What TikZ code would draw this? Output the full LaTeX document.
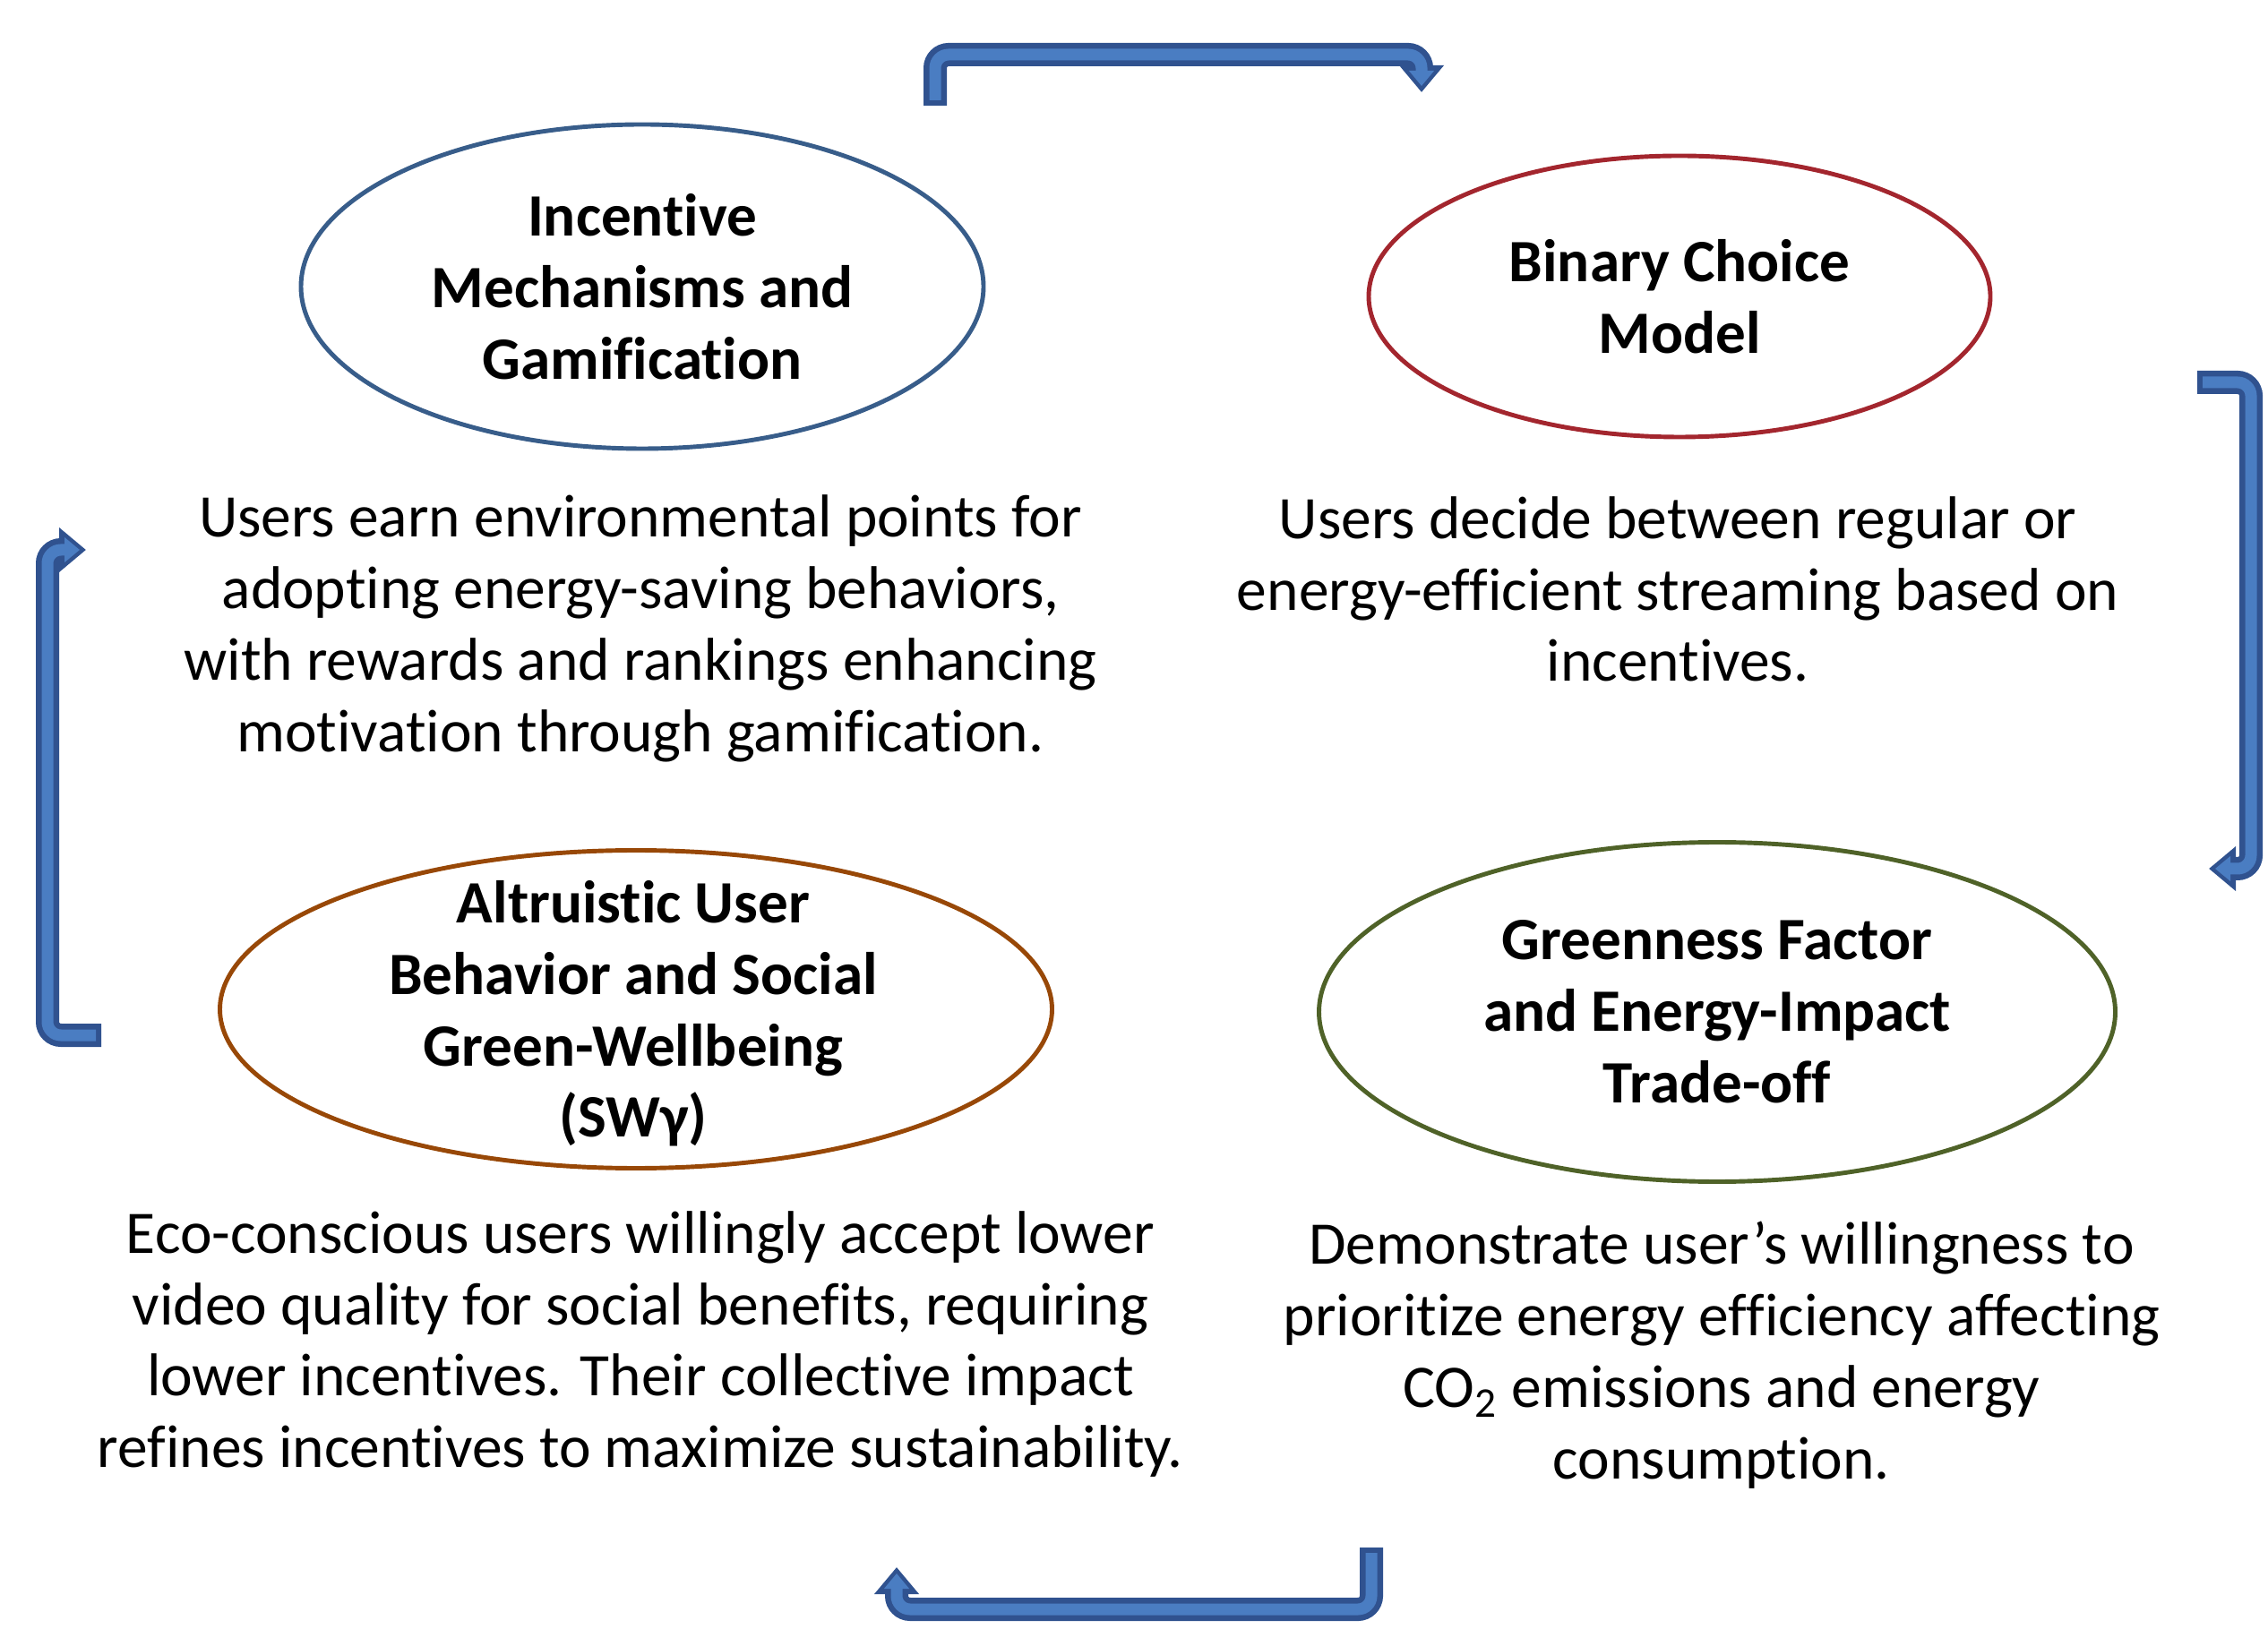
\documentclass[tikz,border=0pt]{standalone}
\usepackage{fontspec}
\setmainfont{Carlito}[Ligatures=NoCommon]
\usetikzlibrary{arrows.meta,shapes.geometric}
\definecolor{ringA}{HTML}{385D8A}
\definecolor{ringB}{HTML}{A3262E}
\definecolor{ringC}{HTML}{984807}
\definecolor{ringD}{HTML}{4F6228}
\definecolor{loopline}{HTML}{30528F}
\definecolor{loopfill}{HTML}{4A7DC2}

\begin{document}
\begin{tikzpicture}[font=\fontsize{19.2}{22.7}\selectfont,
 ring/.style={ellipse,draw,line width=1.4pt,inner sep=0pt},
 title/.style={align=center,font=\fontsize{19.1}{22.7}\selectfont\bfseries},
 note/.style={align=center},
 loopedge/.style={line width=0.26cm,draw=loopline,rounded corners=0.15cm,
  -{Triangle[length=0.3cm,width=0.48cm]}},
 loopcore/.style={line width=0.13cm,draw=loopfill,rounded corners=0.15cm,
  shorten <=0.06cm,shorten >=0.07cm,-{Triangle[length=0.17cm,width=0.27cm]}}]
\useasboundingbox (0,0) rectangle (25.32,18.18);

% the four model parts
\node[ring,draw=ringA,minimum width=7.62cm,minimum height=3.62cm] (incentive) at (7.17,14.98) {};
\node[ring,draw=ringB,minimum width=6.94cm,minimum height=3.14cm] (choice) at (18.75,14.87) {};
\node[ring,draw=ringC,minimum width=9.29cm,minimum height=3.55cm] (altruism) at (7.10,6.91) {};
\node[ring,draw=ringD,minimum width=8.89cm,minimum height=3.79cm] (greenness) at (19.17,6.88) {};

\node[title] (incentiveTitle) at (incentive) {Incentive\\Mechanisms and\\Gamification};
\node[title] (choiceTitle) at (choice) {Binary Choice\\Model};
\node[title] (altruismTitle) at (7.07,6.86) {Altruistic User\\Behavior and Social\\Green-Wellbeing\\(SWγ)};
\node[title] (greennessTitle) at (greenness) {Greenness Factor\\and Energy-Impact\\Trade-off};

% explanations under each ellipse
\node[note] (incentiveText) at (7.15,11.16)
 {Users earn environmental points for\\adopting energy-saving behaviors,\\with rewards and rankings enhancing\\motivation through gamification.};
\node[note] (choiceText) at (18.73,11.60)
 {Users decide between regular or\\energy-efficient streaming based on\\incentives.};
\node[note] (altruismText) at (7.15,3.17)
 {Eco-conscious users willingly accept lower\\video quality for social benefits, requiring\\lower incentives. Their collective impact\\refines incentives to maximize sustainability.};
\node[note] (greennessText) at (19.22,3.05)
 {Demonstrate user’s willingness to\\prioritize energy efficiency affecting\\CO\textsubscript{2} emissions and energy\\consumption.};

% bent arrows closing the cycle
\coordinate (top-s) at (10.44,17.00);
\coordinate (top-1) at (10.44,17.57);
\coordinate (top-2) at (15.87,17.57);
\coordinate (top-e) at (15.87,17.15);
\coordinate (right-s) at (24.53,13.91);
\coordinate (right-1) at (25.13,13.91);
\coordinate (right-2) at (25.13,8.48);
\coordinate (right-e) at (24.66,8.48);
\coordinate (bottom-s) at (15.31,0.90);
\coordinate (bottom-1) at (15.31,0.21);
\coordinate (bottom-2) at (10.01,0.21);
\coordinate (bottom-e) at (10.01,0.68);
\coordinate (left-s) at (1.13,6.62);
\coordinate (left-1) at (0.53,6.62);
\coordinate (left-2) at (0.53,12.04);
\coordinate (left-e) at (0.96,12.04);

\foreach \a in {top,right,bottom,left}
 \draw[loopedge] (\a-s) -- (\a-1) -- (\a-2) -- (\a-e);
\foreach \a in {top,right,bottom,left}
 \draw[loopcore] (\a-s) -- (\a-1) -- (\a-2) -- (\a-e);
\end{tikzpicture}
\end{document}
